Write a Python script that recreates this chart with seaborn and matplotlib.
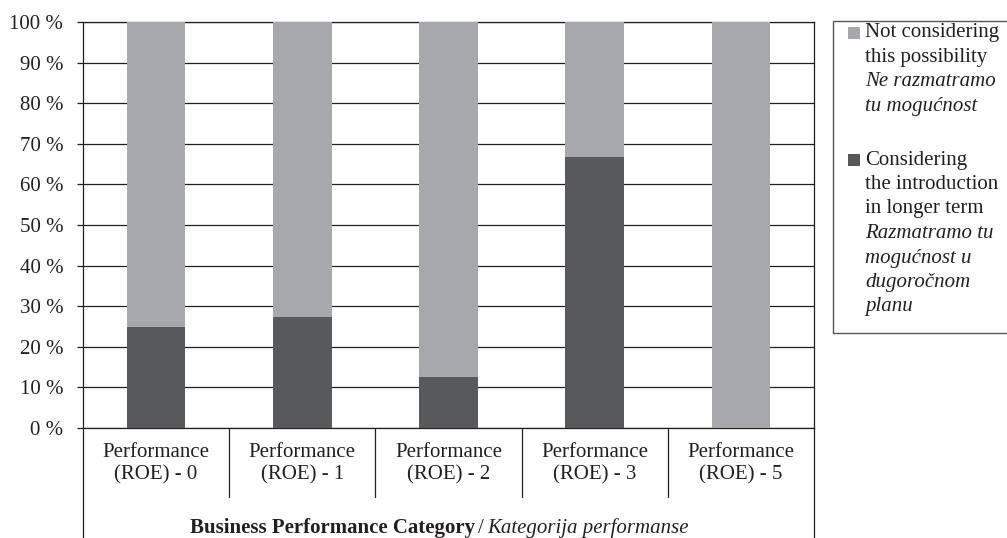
import matplotlib
matplotlib.use("Agg")
import matplotlib.pyplot as plt
import matplotlib.transforms as mtransforms
from matplotlib.patches import Rectangle
from matplotlib.lines import Line2D
import seaborn as sns
import pandas as pd

# ---- data ----
categories = ["Performance\n(ROE) - 0", "Performance\n(ROE) - 1", "Performance\n(ROE) - 2",
              "Performance\n(ROE) - 3", "Performance\n(ROE) - 5"]
considering = [25.0, 27.3, 12.5, 66.7, 0.0]
not_considering = [75.0, 72.7, 87.5, 33.3, 100.0]
y_ticks = list(range(0, 101, 10))
y_tick_labels = [f"{v} %" for v in y_ticks]
legend_not_lines = ["Not considering", "this possibility", "Ne razmatramo", "tu mogućnost"]
legend_not_italic = [False, False, True, True]
legend_cons_lines = ["Considering", "the introduction", "in longer term", "Razmatramo tu",
                     "mogućnost u", "dugoročnom", "planu"]
legend_cons_italic = [False, False, False, True, True, True, True]
title_bold = "Business Performance Category"
title_italic = "Kategorija performanse"

LIGHT = "#A7A8AB"
DARK = "#58595B"
LINE = "#231F20"
FS = 15

sns.set_theme(style="white")
plt.rcParams['font.family'] = ['Liberation Serif', 'DejaVu Serif']

W, H = 1007, 538
fig = plt.figure(figsize=(W / 100, H / 100), dpi=100)
ax = fig.add_axes([83 / W, 1 - 428 / H, (814 - 83) / W, (428 - 22) / H])

df = pd.DataFrame({
    "cat": categories,
    "considering": considering,
    "total": [c + n for c, n in zip(considering, not_considering)],
})
sns.barplot(data=df, x="cat", y="total", color=LIGHT, saturation=1, width=0.4,
            linewidth=0, ax=ax, zorder=3)
sns.barplot(data=df, x="cat", y="considering", color=DARK, saturation=1, width=0.4,
            linewidth=0, ax=ax, zorder=3)

ax.set_xlim(-0.5, len(categories) - 0.5)
ax.set_ylim(0, 100)
ax.set_yticks(y_ticks)
ax.set_yticklabels(y_tick_labels)
ax.set_xlabel("")
ax.set_ylabel("")
ax.set_axisbelow(True)
ax.yaxis.grid(True, color=LINE, linewidth=0.9)
ax.xaxis.grid(False)
for s in ["left", "right", "bottom", "top"]:
    ax.spines[s].set_visible(True)
    ax.spines[s].set_color(LINE)
    ax.spines[s].set_linewidth(0.9)
ax.tick_params(axis="y", left=True, length=4.3, width=0.9, color=LINE, pad=10,
               labelsize=FS, labelcolor="#231F20")
ax.tick_params(axis="x", bottom=False, length=0, pad=11, labelsize=FS, labelcolor="#231F20")
for lab in ax.get_xticklabels():
    lab.set_linespacing(1.18)

# multi-level category axis lines below the plot
trans = mtransforms.blended_transform_factory(ax.transData, fig.transFigure)
for i in range(len(categories) + 1):
    x = i - 0.5
    y_end = 0.0 if i in (0, len(categories)) else 1 - 497 / H
    fig.add_artist(Line2D([x, x], [1 - 428 / H, y_end], transform=trans,
                          color=LINE, linewidth=0.9, clip_on=False))

# axis title: bold + italic
yb = 1 - 533 / H
fig.text(475 / W, yb, title_bold, ha="right", va="baseline", fontsize=FS,
         fontweight="bold", color=LINE)
fig.text(481 / W, yb, "/", ha="center", va="baseline", fontsize=FS, color=LINE)
fig.text(487 / W, yb, title_italic, ha="left", va="baseline", fontsize=FS,
         fontstyle="italic", color=LINE)

# legend (manual, mixed styles)
fig.add_artist(Rectangle((833 / W, 1 - 333 / H), (1015 - 833) / W, (333 - 21) / H,
                         transform=fig.transFigure, fill=False, edgecolor="#555555",
                         linewidth=1.0))
step = 24.5
for lines, italics, color, y0 in [(legend_not_lines, legend_not_italic, LIGHT, 33),
                                  (legend_cons_lines, legend_cons_italic, DARK, 160)]:
    fig.add_artist(Rectangle((848 / W, 1 - (y0 + 6) / H), 12 / W, 12 / H,
                             transform=fig.transFigure, facecolor=color, edgecolor="none"))
    for k, (t, it) in enumerate(zip(lines, italics)):
        fig.text(865 / W, 1 - (y0 + k * step) / H, t, ha="left", va="center",
                 fontsize=FS, fontstyle="italic" if it else "normal", color=LINE)

fig.savefig("out.png", dpi=100, facecolor="white")
